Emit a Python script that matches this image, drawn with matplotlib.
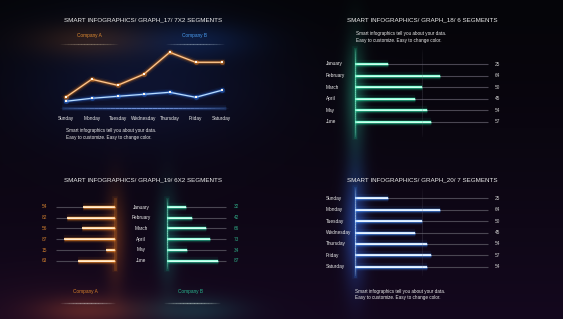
import numpy as np
import matplotlib
matplotlib.use("Agg")
import matplotlib.pyplot as plt
from matplotlib.collections import LineCollection

plt.rcParams['font.family'] = ['Liberation Sans', 'DejaVu Sans']

# ---------------- data ----------------
days = ["Sunday", "Monday", "Tuesday", "Wednesday", "Thursday", "Friday", "Saturday"]
line_a = [11, 29, 23, 34, 56, 46, 46]
line_b = [7, 10, 12, 14, 16, 11, 18]

months = ["January", "February", "March", "April", "May", "June"]
g18_values = [25, 64, 50, 45, 54, 57]

g19_left = [54, 82, 56, 87, 15, 63]
g19_right = [32, 42, 66, 73, 34, 87]

g20_values = [25, 64, 50, 45, 54, 57, 54]

series_names = ["Company A", "Company B"]
desc = "Smart infographics tell you about your data.\nEasy to customize. Easy to change color."

W, H = 563, 319
fig = plt.figure(figsize=(W / 100, H / 100), dpi=100)

# ---------------- background ----------------
yy, xx = np.mgrid[0:H, 0:W].astype(float)
t = (yy / H) ** 1.2
top = np.array([5, 5, 9]) / 255
bot = np.array([20, 8, 30]) / 255
img = top[None, None, :] * (1 - t[..., None]) + bot[None, None, :] * t[..., None]


def blob(cx, cy, sx, sy, col, amp):
    g = np.exp(-(((xx - cx) / sx) ** 2 + ((yy - cy) / sy) ** 2) / 2)
    return g[..., None] * (np.array(col) / 255)[None, None, :] * amp


img = img + blob(143, 80, 85, 45, (8, 20, 50), 0.7)
img = img + blob(90, 40, 40, 12, (90, 45, 5), 0.4)
img = img + blob(196, 40, 40, 12, (10, 40, 90), 0.4)
img = img + blob(355, 95, 7, 38, (20, 110, 80), 0.6)
img = img + blob(115, 235, 7, 32, (120, 55, 5), 0.5)
img = img + blob(167, 235, 7, 32, (10, 100, 80), 0.45)
img = img + blob(88, 310, 35, 10, (90, 40, 10), 0.6)
img = img + blob(192, 310, 35, 10, (10, 70, 60), 0.5)
img = img + blob(355, 225, 8, 40, (30, 80, 170), 0.6)
img = img + blob(60, 319, 70, 30, (40, 12, 10), 0.4)
img = np.clip(img, 0, 1)

bg = fig.add_axes([0, 0, 1, 1])
bg.imshow(img, extent=[0, W, H, 0], aspect='auto', interpolation='bilinear')
bg.set_xlim(0, W)
bg.set_ylim(H, 0)
bg.axis('off')

TITLE_FS = 4.5
LAB_FS = 3.4
DESC_FS = 3.3
TXT = '#ececec'


def fade_line(ax, x0, x1, y, color, lw=1.0, amax=0.8, n=40):
    xs = np.linspace(x0, x1, n + 1)
    segs = [[(xs[i], y), (xs[i + 1], y)] for i in range(n)]
    mid = (np.arange(n) + 0.5) / n
    a = amax * np.sin(np.pi * mid) ** 0.8
    cols = [matplotlib.colors.to_rgba(color, ai) for ai in a]
    ax.add_collection(LineCollection(segs, colors=cols, linewidths=lw))


def vfade_line(ax, x, y0, y1, color, lw=1.0, amax=0.8, n=40):
    ys = np.linspace(y0, y1, n + 1)
    segs = [[(x, ys[i]), (x, ys[i + 1])] for i in range(n)]
    mid = (np.arange(n) + 0.5) / n
    a = amax * np.sin(np.pi * mid) ** 0.5
    cols = [matplotlib.colors.to_rgba(color, ai) for ai in a]
    ax.add_collection(LineCollection(segs, colors=cols, linewidths=lw))


def sub_ax(x0, x1, y0, y1):
    ax = fig.add_axes([x0 / W, 1 - y1 / H, (x1 - x0) / W, (y1 - y0) / H])
    ax.patch.set_alpha(0)
    ax.axis('off')
    return ax


# ---------------- Graph 17: line chart ----------------
bg.text(143, 20, "SMART INFOGRAPHICS/ GRAPH_17/ 7X2 SEGMENTS", color=TXT,
        fontsize=TITLE_FS, ha='center', va='center')
bg.text(89, 36, series_names[0], color='#e08a30', fontsize=LAB_FS, ha='center', va='center')
bg.text(195, 36, series_names[1], color='#4a9cf0', fontsize=LAB_FS, ha='center', va='center')
fade_line(bg, 60, 118, 43.5, '#8a7a6a', lw=0.8)
fade_line(bg, 166, 224, 43.5, '#7a8aa0', lw=0.8)
for w, a in [(4, 0.1), (2, 0.25)]:
    bg.plot([62, 226], [108.3, 108.3], color='#3a70d0', lw=w, alpha=a, solid_capstyle='butt')
fade_line(bg, 60, 228, 108.3, '#8ab0ff', lw=0.6, amax=0.9)
bg.text(66, 134.3, desc, color=TXT, fontsize=DESC_FS, ha='left', va='center', linespacing=1.45)

ax1 = sub_ax(65.7, 221.7, 48.3, 108.3)
ax1.set_xlim(0, len(days) - 1)
ax1.set_ylim(0, 60)
xi = np.arange(len(days))
for vals, glow, core in [(line_b, '#2f7fff', '#b8dcff'), (line_a, '#ff8a1a', '#ffc890')]:
    for w, a in [(5, 0.07), (3, 0.16), (1.8, 0.3)]:
        ax1.plot(xi, vals, color=glow, lw=w, alpha=a, clip_on=False, solid_joinstyle='round')
    ax1.plot(xi, vals, color=core, lw=0.9, clip_on=False)
    ax1.scatter(xi, vals, s=14, color=glow, alpha=0.35, clip_on=False, zorder=3, linewidths=0)
    ax1.scatter(xi, vals, s=3.5, color='#fff6ea', marker='s', clip_on=False, zorder=4, linewidths=0)
for i, d in enumerate(days):
    ax1.text(i, -10.4, d, color=TXT, fontsize=LAB_FS, ha='center', va='center', clip_on=False)


# ---------------- bar helper ----------------
def bar_panel(x0px, x1px, rows_y, values, labels, glow, core, label_x, value_x,
              vtop, vbot, label_color=TXT, value_color='#cfcfcf', reverse=False,
              show_labels=True, axis_glow=True, mid_line=True, end_line=True):
    step = rows_y[1] - rows_y[0]
    r0 = rows_y[0]
    ax = sub_ax(min(x0px, x1px), max(x0px, x1px), vtop, vbot)
    ax.set_ylim((vbot - r0) / step, (vtop - r0) / step)
    if reverse:
        ax.set_xlim(100, 0)
    else:
        ax.set_xlim(0, 100)
    scale = (x1px - x0px) / 100.0

    def px(p):
        return (p - x0px) / scale

    y = np.arange(len(values))
    ax.hlines(y, 0, 100, color='#4a4652', lw=0.8, clip_on=False)
    for w, a in [(6, 0.07), (3.5, 0.18), (2.2, 0.45)]:
        ax.hlines(y, 0, values, color=glow, lw=w, alpha=a, clip_on=False)
    ax.hlines(y, 0, values, color=core, lw=1.5, clip_on=False)
    ax.hlines(y, 0, values, color='#ffffff', lw=0.5, alpha=0.8, clip_on=False)
    lo, hi = ax.get_ylim()
    if axis_glow:
        for w, a in [(4, 0.07), (2, 0.18)]:
            ax.plot([0, 0], [lo, hi], color=glow, lw=w, alpha=a, clip_on=False)
    vfade_line(ax, 0, lo, hi, core, lw=0.8, amax=0.7)
    if mid_line:
        vfade_line(ax, 50, lo, hi, '#6a6a7a', lw=0.5, amax=0.35)
    if end_line:
        vfade_line(ax, 100, lo, hi, '#8a8a9a', lw=0.6, amax=0.6)
    for i in range(len(values)):
        if show_labels:
            ax.text(px(label_x), i, labels[i], color=label_color, fontsize=LAB_FS,
                    ha='left', va='center', clip_on=False)
        ax.text(px(value_x), i, str(values[i]), color=value_color, fontsize=LAB_FS,
                ha='left', va='center', clip_on=False)
    return ax


# ---------------- Graph 18 ----------------
bg.text(422, 20, "SMART INFOGRAPHICS/ GRAPH_18/ 6 SEGMENTS", color=TXT,
        fontsize=TITLE_FS, ha='center', va='center')
bg.text(356, 37.3, desc, color=TXT, fontsize=DESC_FS, ha='left', va='center', linespacing=1.45)
rows18 = [64.0 + 11.6 * i for i in range(len(months))]
bar_panel(355, 488, rows18, g18_values, months, '#1fd69a', '#8fffd8',
          label_x=326, value_x=495, vtop=49, vbot=137)

# ---------------- Graph 20 ----------------
bg.text(422, 180, "SMART INFOGRAPHICS/ GRAPH_20/ 7 SEGMENTS", color=TXT,
        fontsize=TITLE_FS, ha='center', va='center')
rows20 = [198.3 + 11.4 * i for i in range(len(days))]
bar_panel(355, 488, rows20, g20_values, days, '#3c8cff', '#cfe6ff',
          label_x=326, value_x=495, vtop=188, vbot=276)
bg.text(355, 294.5, desc, color=TXT, fontsize=DESC_FS, ha='left', va='center', linespacing=1.45)

# ---------------- Graph 19 ----------------
bg.text(143, 180, "SMART INFOGRAPHICS/ GRAPH_19/ 6X2 SEGMENTS", color=TXT,
        fontsize=TITLE_FS, ha='center', va='center')
rows19 = [207.0 + 10.75 * i for i in range(len(months))]
axl = bar_panel(115, 56, rows19, g19_left, months, '#ff8a1a', '#ffd6a0',
                label_x=0, value_x=42, vtop=199, vbot=269, value_color='#d2802e',
                reverse=True, show_labels=False, mid_line=False, end_line=False)
axr = bar_panel(167, 226, rows19, g19_right, months, '#1fc896', '#9fffe0',
                label_x=0, value_x=234, vtop=199, vbot=269, value_color='#2fa884',
                show_labels=False, mid_line=False, end_line=False)
for i, m in enumerate(months):
    bg.text(141, rows19[i], m, color=TXT, fontsize=LAB_FS, ha='center', va='center')
bg.text(85, 291, series_names[0], color='#d8802a', fontsize=LAB_FS, ha='center', va='center')
bg.text(190, 291, series_names[1], color='#28b890', fontsize=LAB_FS, ha='center', va='center')
fade_line(bg, 60, 115, 303, '#b0a0a0', lw=0.9, amax=0.8)
fade_line(bg, 164, 220, 303, '#a0b0b0', lw=0.9, amax=0.8)

fig.savefig("out.png", dpi=100, facecolor='black')
